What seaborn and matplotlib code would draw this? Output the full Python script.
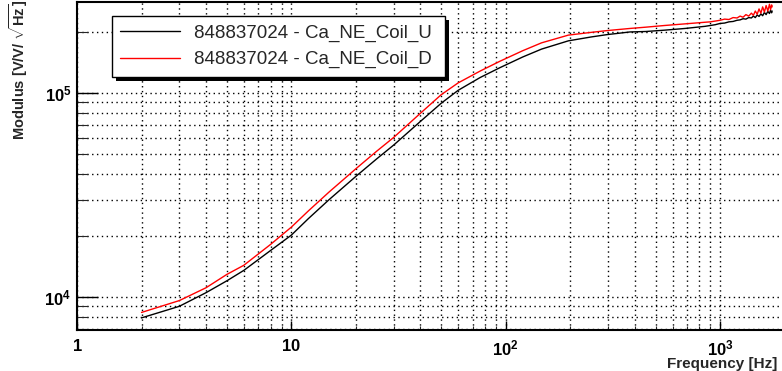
import numpy as np
import pandas as pd
import matplotlib
matplotlib.use('Agg')
import matplotlib.pyplot as plt
import seaborn as sns
from matplotlib.ticker import LogLocator, FuncFormatter, NullFormatter
from matplotlib.patches import Rectangle

# transfer function modulus
freq = [2, 3, 4, 5, 6, 8, 10, 12, 15, 20, 25, 30, 40, 50, 60, 76, 94, 120, 147,
        196, 250, 296, 380, 450, 550, 687, 850,
        900, 950, 1000, 1050, 1100, 1150, 1200, 1240, 1280, 1320, 1360, 1400, 1430,
        1460, 1490, 1520, 1550, 1580, 1610, 1640, 1670, 1700, 1720, 1740, 1750]
mod_u = [7.9e3, 9.0e3, 1.05e4, 1.2e4, 1.35e4, 1.69e4, 2.01e4, 2.42e4, 3.0e4, 3.9e4,
         4.75e4, 5.55e4, 7.25e4, 8.9e4, 1.03e5, 1.19e5, 1.33e5, 1.5e5, 1.64e5,
         1.8e5, 1.88e5, 1.93e5, 1.99e5, 2.0e5, 2.03e5, 2.07e5, 2.12e5,
         2.14e5, 2.16e5, 2.19e5, 2.2e5, 2.23e5, 2.24e5, 2.27e5, 2.28e5, 2.31e5,
         2.30e5, 2.34e5, 2.33e5, 2.38e5, 2.34e5, 2.41e5, 2.37e5, 2.44e5, 2.39e5,
         2.48e5, 2.42e5, 2.51e5, 2.45e5, 2.54e5, 2.47e5, 2.52e5]
mod_d = [8.4e3, 9.6e3, 1.11e4, 1.29e4, 1.43e4, 1.81e4, 2.2e4, 2.64e4, 3.27e4, 4.25e4,
         5.18e4, 6.05e4, 7.95e4, 9.8e4, 1.12e5, 1.28e5, 1.43e5, 1.61e5, 1.76e5,
         1.92e5, 1.98e5, 2.02e5, 2.07e5, 2.1e5, 2.14e5, 2.18e5, 2.22e5,
         2.23e5, 2.25e5, 2.27e5, 2.30e5, 2.29e5, 2.34e5, 2.33e5, 2.38e5, 2.35e5,
         2.42e5, 2.38e5, 2.46e5, 2.40e5, 2.52e5, 2.43e5, 2.58e5, 2.46e5, 2.64e5,
         2.49e5, 2.68e5, 2.52e5, 2.72e5, 2.56e5, 2.70e5, 2.64e5]
labels = ['848837024 - Ca_NE_Coil_U', '848837024 - Ca_NE_Coil_D']
colors = ['black', 'red']

df = pd.concat([
    pd.DataFrame({'freq': freq, 'modulus': mod_u, 'series': labels[0]}),
    pd.DataFrame({'freq': freq, 'modulus': mod_d, 'series': labels[1]}),
])

sns.set_theme(style='white')
plt.rcParams['font.family'] = ['Liberation Sans', 'DejaVu Sans']
plt.rcParams['mathtext.fontset'] = 'custom'
plt.rcParams['mathtext.rm'] = 'Liberation Sans'
plt.rcParams['mathtext.bf'] = 'Liberation Sans:bold'

fig = plt.figure(figsize=(7.82, 3.71), dpi=100)
ax = fig.add_axes([77 / 782, 41 / 371, 705 / 782, 328 / 371])

sns.lineplot(data=df, x='freq', y='modulus', hue='series', palette=colors,
             ax=ax, linewidth=1.0, sort=False, estimator=None)
ax.set_xscale('log')
ax.set_yscale('log')
ax.set_xlim(1, 1945)
ax.set_ylim(6890, 2.79e5)

def xfmt(v, pos):
    if abs(v - 1) < 1e-6:
        return r'$\mathbf{1}$'
    if abs(v - 10) < 1e-6:
        return r'$\mathbf{10}$'
    return r'$\mathbf{10^{%d}}$' % round(np.log10(v))

def yfmt(v, pos):
    return r'$\mathbf{10^{%d}}$' % round(np.log10(v))

for axis in (ax.xaxis, ax.yaxis):
    axis.set_major_locator(LogLocator(base=10))
    axis.set_minor_locator(LogLocator(base=10, subs=np.arange(2, 10)))
    axis.set_minor_formatter(NullFormatter())
ax.xaxis.set_major_formatter(FuncFormatter(xfmt))
ax.yaxis.set_major_formatter(FuncFormatter(yfmt))

ax.grid(True, which='both', color='black', linestyle=(0, (1, 2.5)), linewidth=1.0)
ax.tick_params(axis='x', which='major', direction='in', length=6.5, width=1,
               labelsize=12, pad=6, bottom=True, top=False, colors='black')
ax.tick_params(axis='x', which='minor', direction='in', length=3.2, width=0.8,
               bottom=True, top=False)
ax.tick_params(axis='y', which='major', direction='in', length=15, width=1,
               labelsize=12, pad=4, left=True, right=False, colors='black')
ax.tick_params(axis='y', which='minor', direction='in', length=8, width=0.8,
               left=True, right=False)
for s in ax.spines.values():
    s.set_color('black')
    s.set_linewidth(1.5)
ax.spines['right'].set_visible(False)

ax.set_xlabel('Frequency [Hz]', fontsize=11, fontweight='bold', loc='right')
ax.xaxis.set_label_coords(0.993, -0.082)
ax.set_ylabel(r'Modulus [V/V/ $\sqrt{\mathbf{Hz}}$]', fontsize=10.5, fontweight='bold',
              loc='top')
ax.yaxis.set_label_coords(-0.066, 1.005)

leg = ax.legend(loc='upper left', bbox_to_anchor=(112 / 782, 1 - 16 / 371, 333 / 782, 0),
                bbox_transform=fig.transFigure, mode='expand', borderaxespad=0,
                fontsize=13.5, frameon=True, fancybox=False, handlelength=3.2,
                handletextpad=0.7, labelspacing=0.5, borderpad=0.45)
leg.get_frame().set_edgecolor('black')
leg.get_frame().set_linewidth(1.0)
leg.get_frame().set_alpha(1)
for line in leg.get_lines():
    line.set_linewidth(1.0)

fig.canvas.draw()
bb = leg.get_window_extent()
shadow = Rectangle((bb.x0 + 4, bb.y0 - 4), bb.width, bb.height, transform=None,
                   facecolor='black', edgecolor='none', zorder=4.9, clip_on=False)
ax.add_artist(shadow)

plt.savefig('out.png', dpi=100)
